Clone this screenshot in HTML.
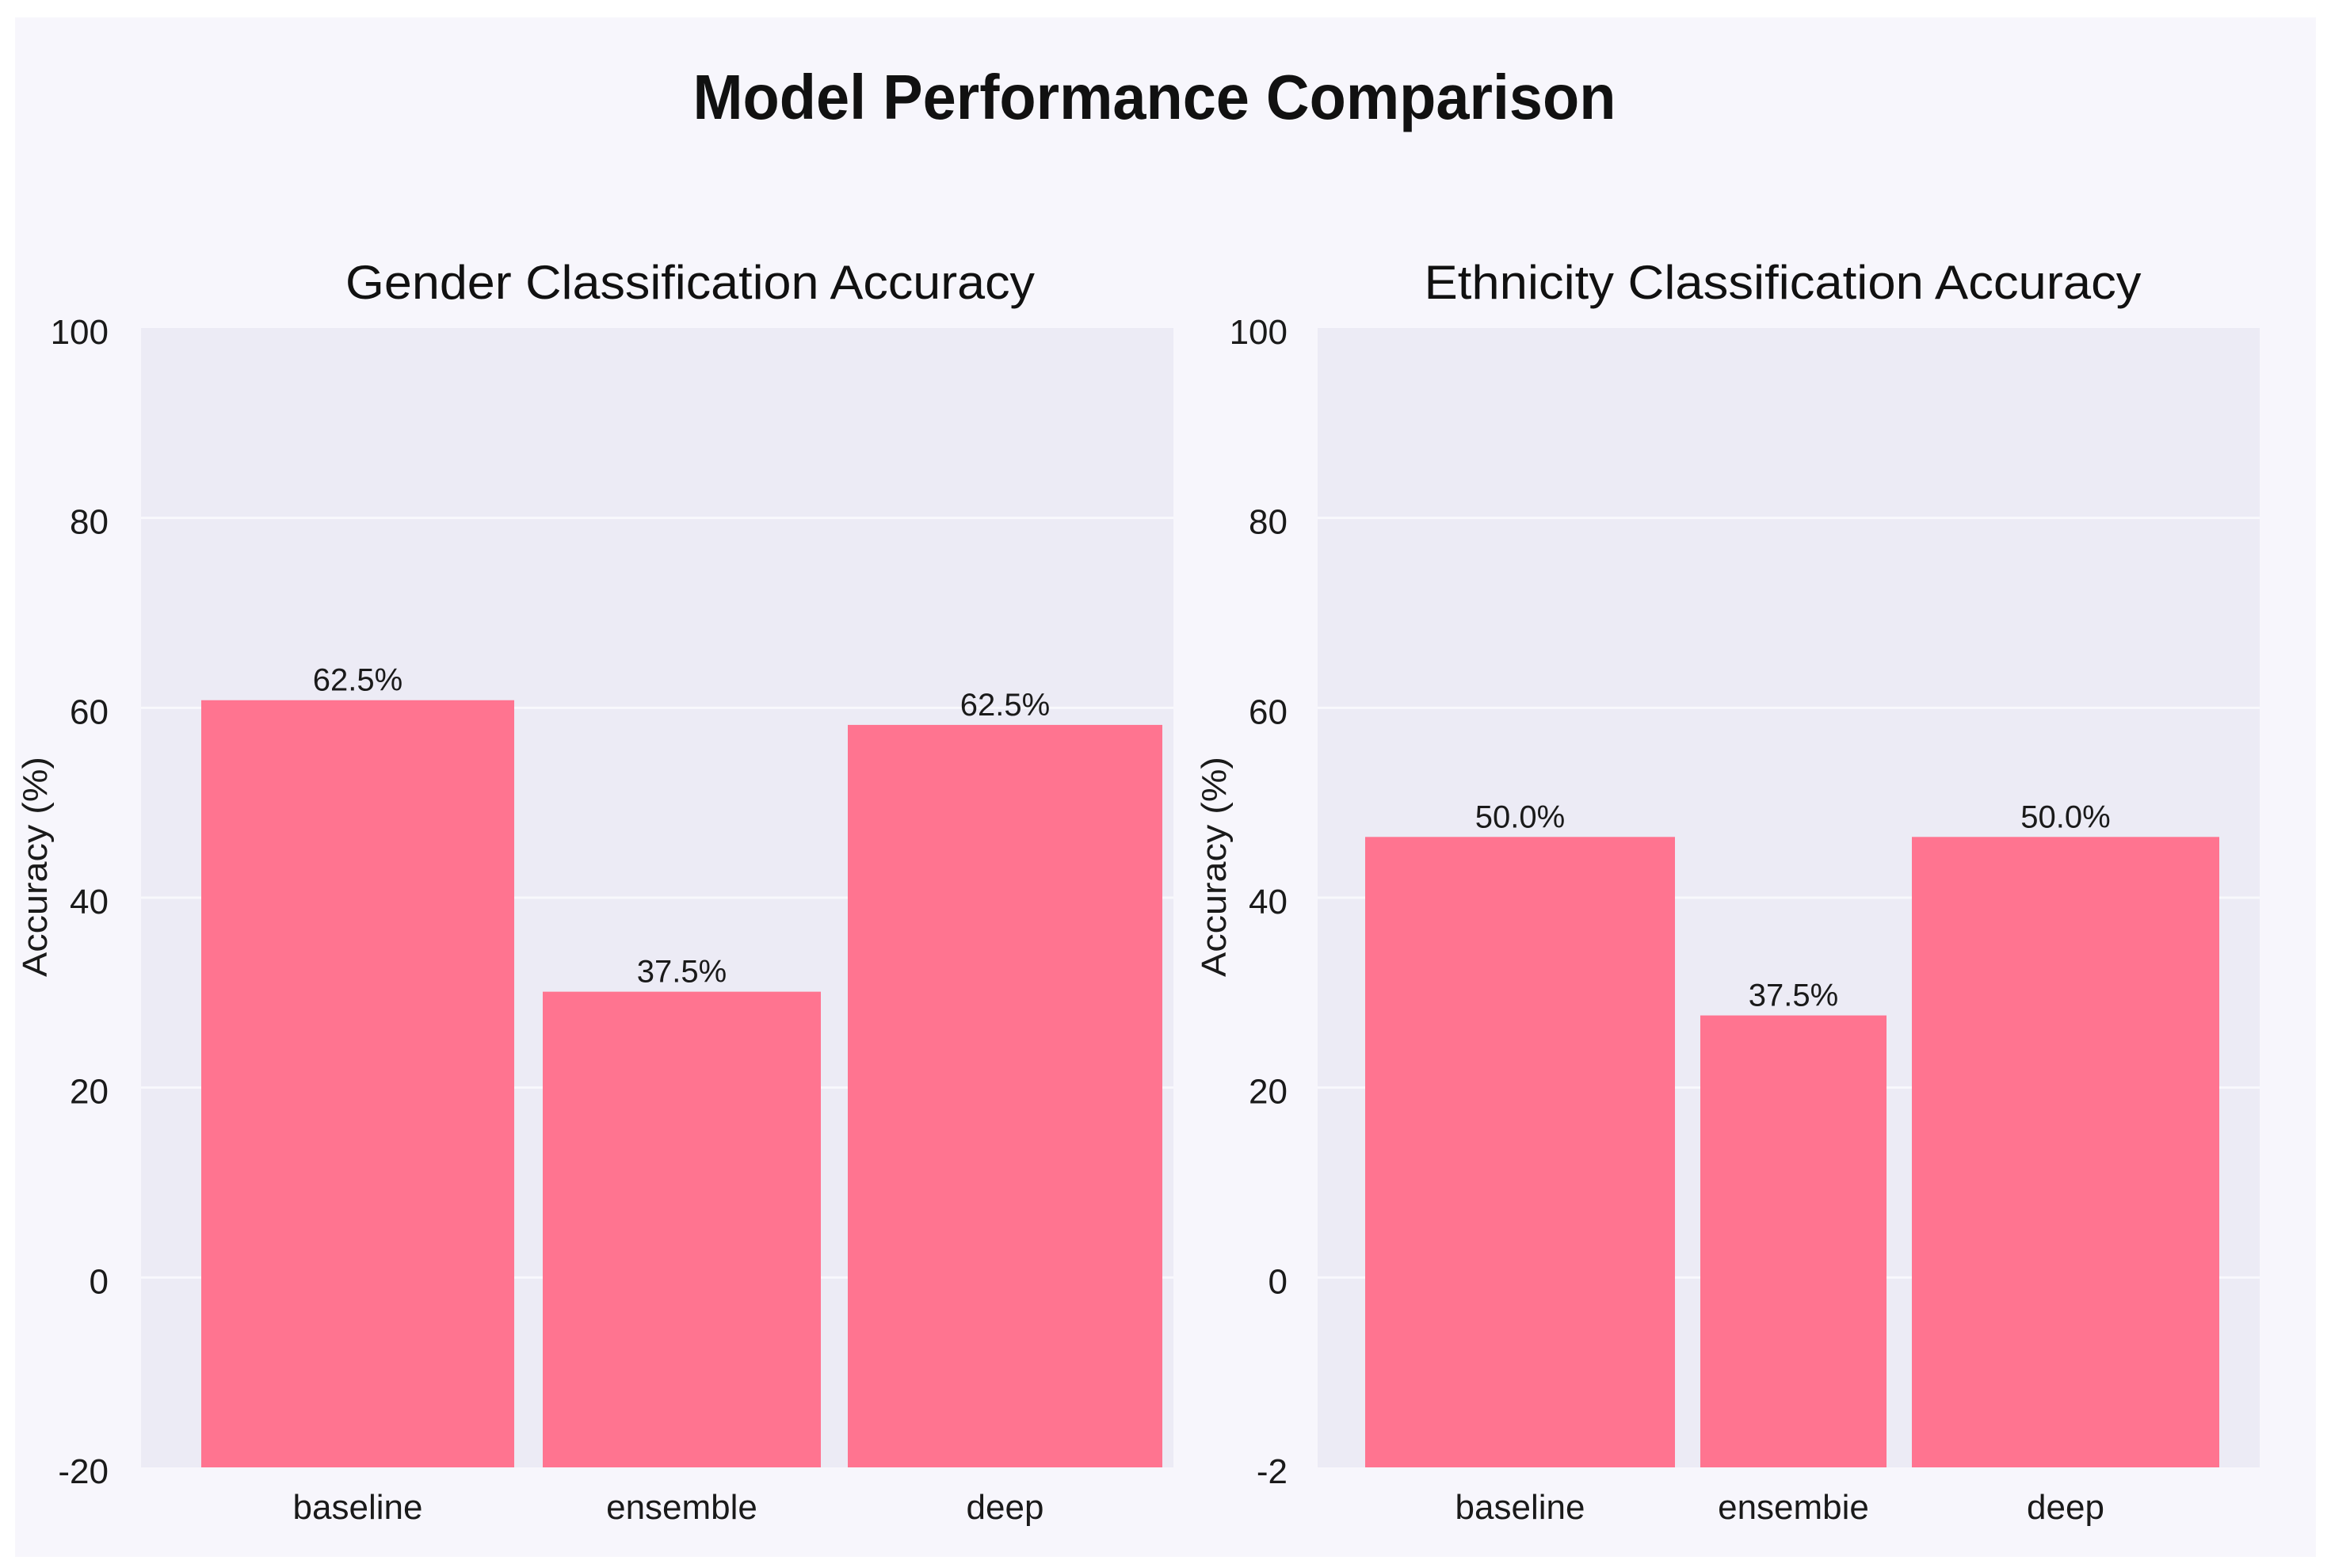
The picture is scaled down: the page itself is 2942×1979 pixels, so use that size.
<!DOCTYPE html>
<html><head><meta charset="utf-8"><style>
html,body{margin:0;padding:0;background:#ffffff;}
svg{display:block;font-family:"Liberation Sans",sans-serif;}
</style></head><body>
<svg id="chart" width="2942" height="1979" viewBox="0 0 2942 1979" xmlns="http://www.w3.org/2000/svg">
<rect x="19" y="22" width="2904" height="1943" fill="#f7f6fc"/>
<text x="1457" y="150" text-anchor="middle" font-size="80" font-weight="bold" fill="#111" textLength="1165" lengthAdjust="spacingAndGlyphs">Model Performance Comparison</text>
<g id="panels"></g>
</svg>
<script>
const categories = ["baseline", "ensemble", "deep"];
const ethCategories = ["baseline", "ensembie", "deep"];
const genderValues = [60.8, 30.1, 58.2];
const genderLabels = ["62.5%", "37.5%", "62.5%"];
const ethnicityValues = [46.4, 27.6, 46.4];
const ethnicityLabels = ["50.0%", "37.5%", "50.0%"];
const tickValues = [100, 80, 60, 40, 20, 0, -20];
const genderTickLabels = ["100", "80", "60", "40", "20", "0", "-20"];
const ethTickLabels = ["100", "80", "60", "40", "20", "0", "-2"];

const NS = "http://www.w3.org/2000/svg";
const yMin = -20, yMax = 100, plotTop = 414, plotBottom = 1852;
function y(v){ return plotBottom - (v - yMin) / (yMax - yMin) * (plotBottom - plotTop); }

function mk(tag, attrs, parent){
  const e = document.createElementNS(NS, tag);
  for (const k in attrs) e.setAttribute(k, attrs[k]);
  parent.appendChild(e);
  return e;
}

const panels = [
  {key:"gender", title:"Gender Classification Accuracy", titleW:870, titleX:871, x0:178, x1:1481, cats:categories, vals:genderValues, labels:genderLabels, ticks:genderTickLabels,
   barEdges:[[254,649],[685,1036],[1070,1467]], tickX:137, yTitleX:44},
  {key:"ethnicity", title:"Ethnicity Classification Accuracy", titleW:905, titleX:2250, x0:1663, x1:2852, cats:ethCategories, vals:ethnicityValues, labels:ethnicityLabels, ticks:ethTickLabels,
   barEdges:[[1723,2114],[2146,2381],[2413,2801]], tickX:1625, yTitleX:1532}
];

const root = document.getElementById("panels");
panels.forEach(p => {
  const g = mk("g", {}, root);
  
  

  const t = mk("text", {x:p.titleX, y:377, "text-anchor":"middle", "font-size":60, fill:"#111", textLength:p.titleW, lengthAdjust:"spacingAndGlyphs"}, g);
  t.textContent = p.title;
  
  

  const bg = mk("rect", {x:p.x0, y:plotTop, width:p.x1-p.x0, height:plotBottom-plotTop, fill:"#ecebf5"}, g);
  
  

  tickValues.forEach((v, i) => {
    const yy = y(v);
    if (i > 0 && i < tickValues.length - 1) {
      const gl = mk("line", {x1:p.x0, x2:p.x1, y1:yy, y2:yy, stroke:"#f8f8fc", "stroke-width":3}, g);
      
      
    }
    const tl = mk("text", {x:p.tickX, y:yy + 20, "text-anchor":"end", "font-size":44, fill:"#1a1a1a"}, g);
    tl.textContent = p.ticks[i];
    
    
  });

  const yt = mk("text", {x:0, y:0, "text-anchor":"middle", "font-size":44, fill:"#1a1a1a", textLength:278, lengthAdjust:"spacingAndGlyphs", transform:"translate(" + (p.yTitleX + 15) + ",1094) rotate(-90)"}, g);
  yt.textContent = "Accuracy (%)";
  
  

  p.vals.forEach((v, i) => {
    const [a, b] = p.barEdges[i];
    const top = y(v);
    const r = mk("rect", {x:a, y:top, width:b-a, height:plotBottom-top, fill:"#ff7490"}, g);
    
    

    const vl = mk("text", {x:(a+b)/2, y:top - 12, "text-anchor":"middle", "font-size":40, fill:"#1a1a1a"}, g);
    vl.textContent = p.labels[i];
    
    

    const cl = mk("text", {x:(a+b)/2, y:1917, "text-anchor":"middle", "font-size":44, fill:"#1a1a1a"}, g);
    cl.textContent = p.cats[i];
    
    
  });
});
</script>
</body></html>
